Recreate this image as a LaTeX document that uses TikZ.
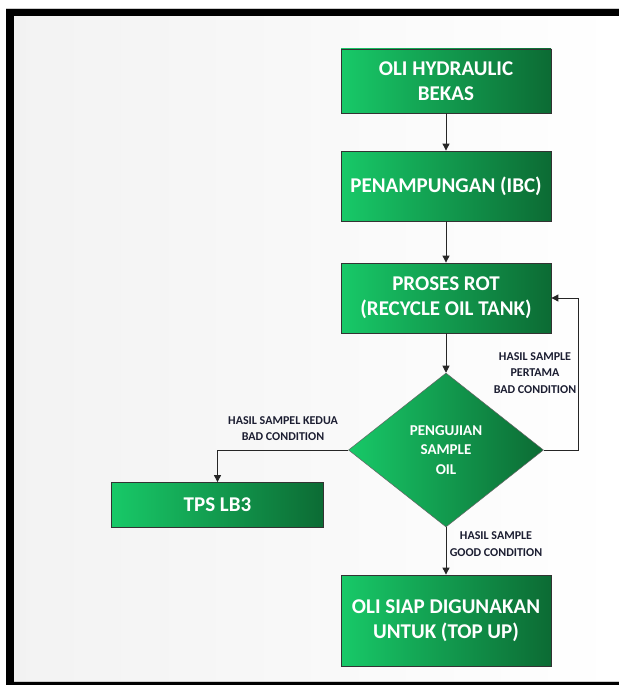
\documentclass[tikz,border=0pt]{standalone}
\usepackage{fontspec}
\setmainfont{Carlito}
\usetikzlibrary{shapes.geometric,arrows.meta}
\definecolor{gL}{RGB}{24,201,104}
\definecolor{gR}{RGB}{12,107,52}
\definecolor{lbl}{RGB}{28,30,50}
\begin{document}
\begin{tikzpicture}[x=1pt,y=-1pt,
 box/.style={draw=black!80, line width=0.8pt, left color=gL, right color=gR, minimum width=210pt, inner sep=0pt, text=white, font=\bfseries\fontsize{21}{25}\selectfont, align=center},
 dec/.style={diamond, draw=black!60, line width=0.5pt, shape aspect=1.27, minimum width=195pt, minimum height=154pt, inner sep=0pt, left color=gL, right color=gR, text=white, font=\bfseries\fontsize{15}{19.3}\selectfont, align=center},
 arr/.style={draw=black!85, line width=0.9pt, -{Triangle[length=7pt,width=7pt]}},
 lab/.style={text=lbl, font=\bfseries\fontsize{12}{16.5}\selectfont, align=center, inner sep=0pt}]
\useasboundingbox (0,0) rectangle (619,685);
\fill[white] (0,0) rectangle (619,685);
\shade[left color=black!5, right color=white] (14,16) rectangle (619,682);
\draw[gray!40, line width=0.8pt] (6,8.5) -- (619,8.5);
\draw[gray!40, line width=0.8pt] (14,681.5) -- (619,681.5);
\fill[black] (6,9) rectangle (14,685);
\fill[black] (6,9) rectangle (619,16);
\fill[black] (6,682) rectangle (619,685);

\node[box, minimum height=64pt] (b1) at (446,81) {OLI HYDRAULIC\\BEKAS};
\node[box, minimum height=70pt] (b2) at (446,186) {PENAMPUNGAN (IBC)};
\node[box, minimum height=70pt] (b3) at (446,298) {PROSES ROT\\(RECYCLE OIL TANK)};
\node[dec] (dec) at (446,450) {PENGUJIAN\\SAMPLE\\OIL};
\node[box, minimum width=212pt, minimum height=45pt] (tps) at (217.5,505) {TPS LB3};
\node[box, minimum height=91pt] (b4) at (446,620.5) {OLI SIAP DIGUNAKAN\\UNTUK (TOP UP)};

\coordinate (fb) at (578,450);

\draw[arr] (b1) -- (b2);
\draw[arr] (b2) -- (b3);
\draw[arr] (b3) -- (dec);
\draw[arr] (dec) -- (b4);
\draw[arr] (dec.east) -- (fb) |- (b3.east);
\draw[arr] (dec.west) -| (tps.north);

\node[lab] (l1) at (535,373) {HASIL SAMPLE\\PERTAMA\\BAD CONDITION};
\node[lab] (l2) at (283,428.5) {HASIL SAMPEL KEDUA\\BAD CONDITION};
\node[lab] (l3) at (496,544) {HASIL SAMPLE\\GOOD CONDITION};
\end{tikzpicture}
\end{document}
